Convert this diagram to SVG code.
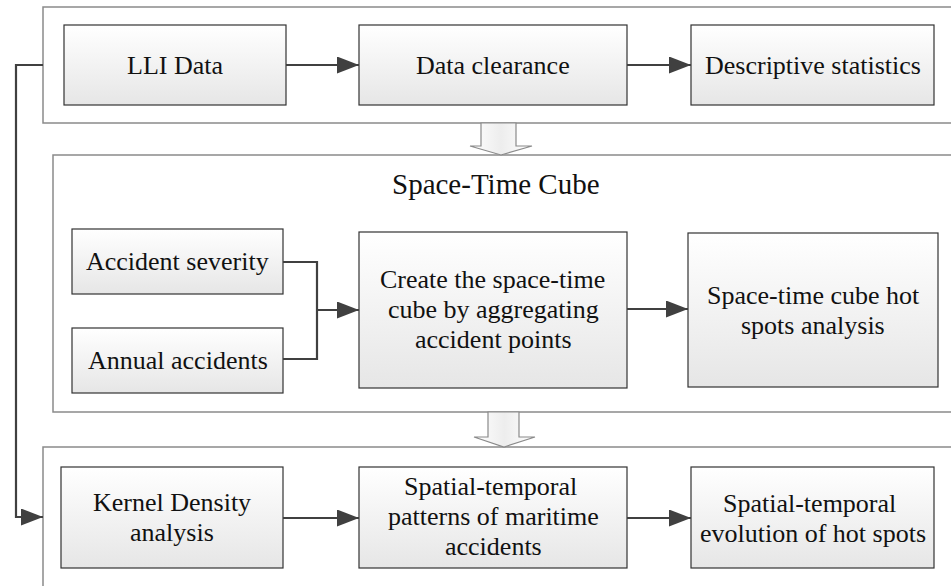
<svg xmlns="http://www.w3.org/2000/svg" width="951" height="586" viewBox="0 0 951 586">
<defs>
<linearGradient id="bg" x1="0" y1="0" x2="0" y2="1">
<stop offset="0" stop-color="#ffffff"/>
<stop offset="1" stop-color="#e6e6e6"/>
</linearGradient>
<linearGradient id="hg" x1="0" y1="0" x2="1" y2="0">
<stop offset="0" stop-color="#ffffff"/>
<stop offset="0.5" stop-color="#ededed"/>
<stop offset="1" stop-color="#ffffff"/>
</linearGradient>
<marker id="ah" markerUnits="userSpaceOnUse" markerWidth="23" markerHeight="18" refX="22" refY="8.5" orient="auto">
<path d="M0,0 L22,8.5 L0,17 Z" fill="#404040"/>
</marker>
</defs>

<g id="panels" fill="#ffffff" stroke="#8a8a8a" stroke-width="1.5">
<rect x="43" y="7" width="930" height="116"/>
<rect x="53" y="155" width="920" height="257"/>
<rect x="43" y="447" width="930" height="200"/>
</g>
<text id="title" x="392" y="194" font-family="Times New Roman, Liberation Serif, serif" font-size="29" fill="#111111">Space-Time Cube</text>

<g id="nodes" fill="url(#bg)" stroke="#333333" stroke-width="1.2">
<g id="n-lli"><rect x="64" y="25" width="222" height="80"/></g>
<g id="n-clear"><rect x="359" y="25" width="268" height="80"/></g>
<g id="n-desc"><rect x="691" y="25" width="243" height="80"/></g>
<g id="n-sev"><rect x="72" y="229" width="211" height="65"/></g>
<g id="n-ann"><rect x="72" y="328" width="211" height="65"/></g>
<g id="n-create"><rect x="359" y="232" width="268" height="156"/></g>
<g id="n-hot"><rect x="688" y="233" width="250" height="154"/></g>
<g id="n-kernel"><rect x="61" y="467" width="222" height="101"/></g>
<g id="n-pattern"><rect x="359" y="467" width="268" height="101"/></g>
<g id="n-evol"><rect x="691" y="467" width="243" height="101"/></g>
</g>

<g id="labels" font-family="Times New Roman, Liberation Serif, serif" font-size="26" fill="#111111">
<text x="127" y="74" font-family="Times New Roman, Liberation Serif, serif">LLI Data</text>
<text x="416" y="74" font-family="Times New Roman, Liberation Serif, serif">Data clearance</text>
<text x="705" y="74" font-family="Times New Roman, Liberation Serif, serif">Descriptive statistics</text>
<text x="86" y="270" font-family="Times New Roman, Liberation Serif, serif">Accident severity</text>
<text x="88" y="369" font-family="Times New Roman, Liberation Serif, serif">Annual accidents</text>
<text x="380" y="288" font-family="Times New Roman, Liberation Serif, serif">Create the space-time</text>
<text x="388" y="318" font-family="Times New Roman, Liberation Serif, serif">cube by aggregating</text>
<text x="415" y="348" font-family="Times New Roman, Liberation Serif, serif">accident points</text>
<text x="707" y="304" font-family="Times New Roman, Liberation Serif, serif">Space-time cube hot</text>
<text x="741" y="334" font-family="Times New Roman, Liberation Serif, serif">spots analysis</text>
<text x="93" y="511" font-family="Times New Roman, Liberation Serif, serif">Kernel Density</text>
<text x="130" y="541" font-family="Times New Roman, Liberation Serif, serif">analysis</text>
<text x="404" y="495" font-family="Times New Roman, Liberation Serif, serif">Spatial-temporal</text>
<text x="388" y="525" font-family="Times New Roman, Liberation Serif, serif">patterns of maritime</text>
<text x="445" y="555" font-family="Times New Roman, Liberation Serif, serif">accidents</text>
<text x="723" y="512" font-family="Times New Roman, Liberation Serif, serif">Spatial-temporal</text>
<text x="700" y="542" font-family="Times New Roman, Liberation Serif, serif">evolution of hot spots</text>
</g>

<g id="connectors" fill="none" stroke="#404040" stroke-width="2.2">
<line x1="286" y1="65" x2="359" y2="65" marker-end="url(#ah)"/>
<line x1="627" y1="65" x2="691" y2="65" marker-end="url(#ah)"/>
<polyline points="283,262 317,262 317,359 283,359"/>
<line x1="317" y1="310" x2="359" y2="310" marker-end="url(#ah)"/>
<line x1="627" y1="309" x2="688" y2="309" marker-end="url(#ah)"/>
<line x1="283" y1="518" x2="359" y2="518" marker-end="url(#ah)"/>
<line x1="627" y1="518" x2="691" y2="518" marker-end="url(#ah)"/>
<polyline points="43,65 16,65 16,517 43,517" marker-end="url(#ah)"/>
<polygon fill="url(#hg)" stroke="#8a8a8a" stroke-width="1.2" points="481,123 516,123 516,146 532,146 501,155 470,146 481,146"/>
<polygon fill="url(#hg)" stroke="#8a8a8a" stroke-width="1.2" points="488,412 519,412 519,437 535,437 504,447 474,437 488,437"/>
</g>
</svg>
